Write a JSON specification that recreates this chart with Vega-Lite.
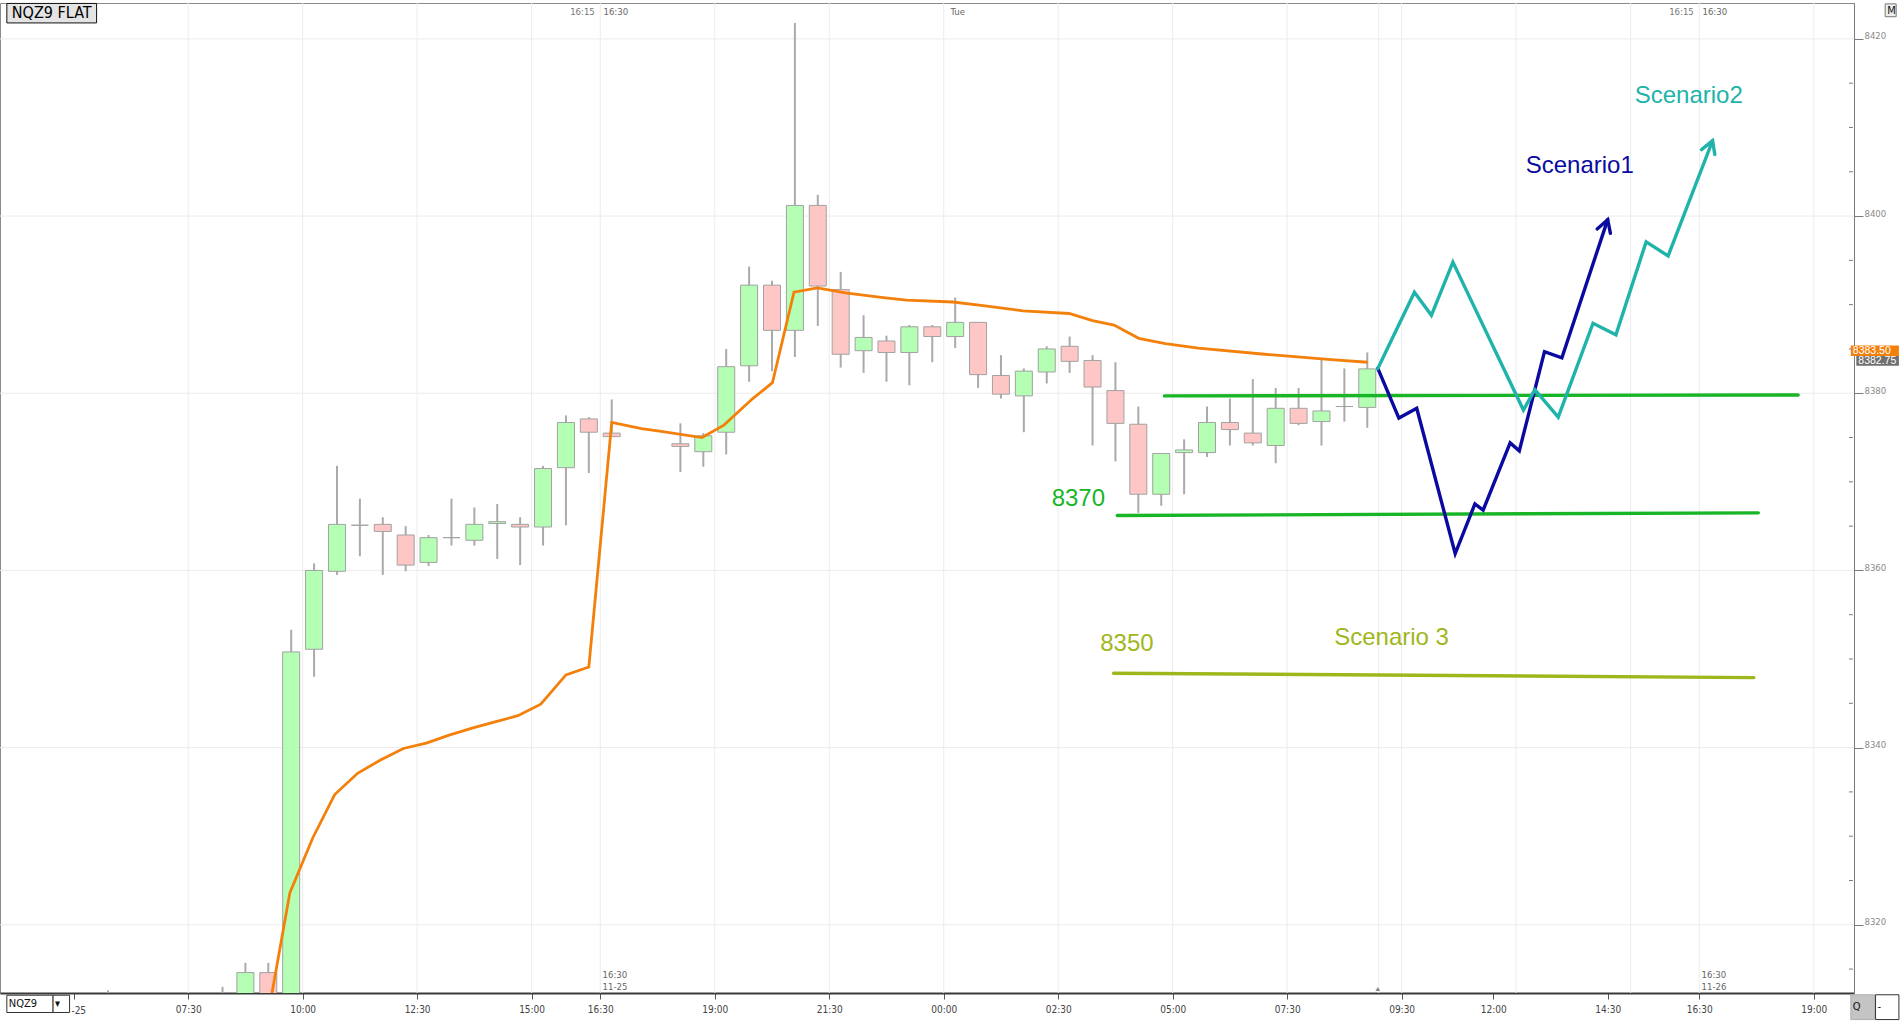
{
  "$schema": "https://vega.github.io/schema/vega-lite/v6.json",
  "description": "NQZ9 30-minute candles with VWAP, support levels and drawn scenarios",
  "width": 1854,
  "height": 990,
  "autosize": {"type": "none"},
  "padding": {"left": 0, "top": 3, "right": 50, "bottom": 28},
  "background": "white",
  "config": {
    "view": {"stroke": "#8a8a8a", "strokeWidth": 1},
    "axis": {"labelFont": "Liberation Sans Narrow, DejaVu Sans Condensed, Liberation Sans", "titleFont": "Liberation Sans"}
  },
  "datasets": {
    "candles": [
      {"x": 5.75, "open": 8300, "high": 8312.6, "low": 8298, "close": 8305},
      {"x": 8.25, "open": 8300, "high": 8313.0, "low": 8298, "close": 8305},
      {"x": 8.75, "open": 8300, "high": 8315.7, "low": 8298, "close": 8314.6},
      {"x": 9.25, "open": 8314.6, "high": 8315.7, "low": 8298, "close": 8300},
      {"x": 9.75, "open": 8300, "high": 8353.3, "low": 8298, "close": 8350.8},
      {"x": 10.25, "open": 8351.1, "high": 8360.8, "low": 8348.0, "close": 8360.0},
      {"x": 10.75, "open": 8359.9, "high": 8371.8, "low": 8359.5, "close": 8365.2},
      {"x": 11.25, "open": 8365.1, "high": 8368.1, "low": 8361.6, "close": 8365.1},
      {"x": 11.75, "open": 8365.2, "high": 8366.0, "low": 8359.5, "close": 8364.4},
      {"x": 12.25, "open": 8364.0, "high": 8365.0, "low": 8359.9, "close": 8360.6},
      {"x": 12.75, "open": 8360.9, "high": 8364.0, "low": 8360.5, "close": 8363.7},
      {"x": 13.25, "open": 8363.7, "high": 8368.1, "low": 8362.8, "close": 8363.7},
      {"x": 13.75, "open": 8363.4, "high": 8367.1, "low": 8362.8, "close": 8365.2},
      {"x": 14.25, "open": 8365.3, "high": 8367.5, "low": 8361.3, "close": 8365.5},
      {"x": 14.75, "open": 8365.2, "high": 8366.0, "low": 8360.6, "close": 8364.9},
      {"x": 15.25, "open": 8364.9, "high": 8371.8, "low": 8362.8, "close": 8371.5},
      {"x": 15.75, "open": 8371.6, "high": 8377.5, "low": 8365.1, "close": 8376.7},
      {"x": 16.25, "open": 8377.1, "high": 8377.3, "low": 8371.0, "close": 8375.6},
      {"x": 16.75, "open": 8375.5, "high": 8379.3, "low": 8375.1, "close": 8375.1},
      {"x": 18.25, "open": 8374.3, "high": 8376.6, "low": 8371.1, "close": 8374.0},
      {"x": 18.75, "open": 8373.4, "high": 8375.5, "low": 8371.7, "close": 8375.2},
      {"x": 19.25, "open": 8375.6, "high": 8385.0, "low": 8373.1, "close": 8383.0},
      {"x": 19.75, "open": 8383.1, "high": 8394.3, "low": 8381.3, "close": 8392.2},
      {"x": 20.25, "open": 8392.2, "high": 8392.7, "low": 8382.5, "close": 8387.1},
      {"x": 20.75, "open": 8387.1, "high": 8421.8, "low": 8384.1, "close": 8401.2},
      {"x": 21.25, "open": 8401.2, "high": 8402.4, "low": 8387.6, "close": 8392.1},
      {"x": 21.75, "open": 8391.7, "high": 8393.7, "low": 8382.9, "close": 8384.4},
      {"x": 22.25, "open": 8384.8, "high": 8388.8, "low": 8382.3, "close": 8386.3},
      {"x": 22.75, "open": 8385.9, "high": 8386.5, "low": 8381.3, "close": 8384.6},
      {"x": 23.25, "open": 8384.6, "high": 8387.7, "low": 8380.9, "close": 8387.5},
      {"x": 23.75, "open": 8387.5, "high": 8387.7, "low": 8383.5, "close": 8386.4},
      {"x": 24.25, "open": 8386.4, "high": 8390.8, "low": 8385.1, "close": 8388.0},
      {"x": 24.75, "open": 8388.0, "high": 8388.0, "low": 8380.6, "close": 8382.1},
      {"x": 25.25, "open": 8382.0, "high": 8384.3, "low": 8379.4, "close": 8379.9},
      {"x": 25.75, "open": 8379.7, "high": 8382.8, "low": 8375.6, "close": 8382.5},
      {"x": 26.25, "open": 8382.4, "high": 8385.3, "low": 8381.1, "close": 8385.0},
      {"x": 26.75, "open": 8385.3, "high": 8386.4, "low": 8382.3, "close": 8383.6},
      {"x": 27.25, "open": 8383.7, "high": 8384.3, "low": 8374.1, "close": 8380.7},
      {"x": 27.75, "open": 8380.3, "high": 8383.5, "low": 8372.3, "close": 8376.6},
      {"x": 28.25, "open": 8376.5, "high": 8378.5, "low": 8366.5, "close": 8368.6},
      {"x": 28.75, "open": 8368.6, "high": 8373.2, "low": 8367.3, "close": 8373.2},
      {"x": 29.25, "open": 8373.3, "high": 8374.8, "low": 8368.6, "close": 8373.6},
      {"x": 29.75, "open": 8373.3, "high": 8378.5, "low": 8372.8, "close": 8376.7},
      {"x": 30.25, "open": 8376.7, "high": 8379.4, "low": 8374.1, "close": 8375.9},
      {"x": 30.75, "open": 8375.5, "high": 8381.6, "low": 8374.1, "close": 8374.4},
      {"x": 31.25, "open": 8374.1, "high": 8380.6, "low": 8372.1, "close": 8378.3},
      {"x": 31.75, "open": 8378.3, "high": 8380.6, "low": 8376.4, "close": 8376.6},
      {"x": 32.25, "open": 8376.8, "high": 8383.8, "low": 8374.1, "close": 8378.0},
      {"x": 32.75, "open": 8378.5, "high": 8382.8, "low": 8376.8, "close": 8378.5},
      {"x": 33.25, "open": 8378.4, "high": 8384.6, "low": 8376.1, "close": 8382.75}
    ],
    "vwap": [
      {"x": 9.2, "y": 8308.5},
      {"x": 9.72, "y": 8323.6},
      {"x": 10.22, "y": 8329.8},
      {"x": 10.7, "y": 8334.7},
      {"x": 11.2, "y": 8337.1},
      {"x": 11.7, "y": 8338.6},
      {"x": 12.2, "y": 8339.9},
      {"x": 12.7, "y": 8340.5},
      {"x": 13.2, "y": 8341.4},
      {"x": 13.7, "y": 8342.2},
      {"x": 14.2, "y": 8342.9},
      {"x": 14.7, "y": 8343.6},
      {"x": 15.2, "y": 8344.9},
      {"x": 15.45, "y": 8346.4},
      {"x": 15.75, "y": 8348.2},
      {"x": 16.25, "y": 8349.1},
      {"x": 16.75, "y": 8376.7},
      {"x": 17.4, "y": 8376.0},
      {"x": 17.83, "y": 8375.7},
      {"x": 18.72, "y": 8375.0},
      {"x": 19.2, "y": 8376.4},
      {"x": 19.83, "y": 8379.4},
      {"x": 20.26, "y": 8381.2},
      {"x": 20.73, "y": 8391.4},
      {"x": 21.24, "y": 8391.9},
      {"x": 21.89, "y": 8391.3},
      {"x": 22.68, "y": 8390.8},
      {"x": 23.19, "y": 8390.5},
      {"x": 24.2, "y": 8390.3},
      {"x": 24.86, "y": 8389.9},
      {"x": 25.73, "y": 8389.3},
      {"x": 26.74, "y": 8389.0},
      {"x": 27.25, "y": 8388.2},
      {"x": 27.72, "y": 8387.7},
      {"x": 28.26, "y": 8386.2},
      {"x": 28.84, "y": 8385.6},
      {"x": 29.56, "y": 8385.1},
      {"x": 31.01, "y": 8384.4},
      {"x": 32.46, "y": 8383.8},
      {"x": 33.26, "y": 8383.5}
    ],
    "drawings": [
      {"series": "level8380", "x": 28.82, "y": 8379.7},
      {"series": "level8380", "x": 42.66, "y": 8379.8},
      {"series": "level8370", "x": 27.79, "y": 8366.2},
      {"series": "level8370", "x": 41.79, "y": 8366.5},
      {"series": "level8350", "x": 27.71, "y": 8348.4},
      {"series": "level8350", "x": 41.69, "y": 8347.9},
      {"series": "scenario1", "x": 33.48, "y": 8382.8},
      {"series": "scenario1", "x": 33.94, "y": 8377.2},
      {"series": "scenario1", "x": 34.33, "y": 8378.3},
      {"series": "scenario1", "x": 35.17, "y": 8361.9},
      {"series": "scenario1", "x": 35.6, "y": 8367.5},
      {"series": "scenario1", "x": 35.78, "y": 8366.8},
      {"series": "scenario1", "x": 36.37, "y": 8374.4},
      {"series": "scenario1", "x": 36.57, "y": 8373.5},
      {"series": "scenario1", "x": 37.12, "y": 8384.7},
      {"series": "scenario1", "x": 37.5, "y": 8384.0},
      {"series": "scenario1", "x": 38.5, "y": 8399.6},
      {"series": "arrow1", "x": 38.27, "y": 8398.55},
      {"series": "arrow1", "x": 38.5, "y": 8399.6},
      {"series": "arrow1", "x": 38.56, "y": 8398.05},
      {"series": "scenario2", "x": 33.48, "y": 8382.8},
      {"series": "scenario2", "x": 34.28, "y": 8391.4},
      {"series": "scenario2", "x": 34.65, "y": 8388.8},
      {"series": "scenario2", "x": 35.12, "y": 8394.8},
      {"series": "scenario2", "x": 36.66, "y": 8378.1},
      {"series": "scenario2", "x": 36.91, "y": 8380.4},
      {"series": "scenario2", "x": 37.42, "y": 8377.3},
      {"series": "scenario2", "x": 38.18, "y": 8387.9},
      {"series": "scenario2", "x": 38.68, "y": 8386.6},
      {"series": "scenario2", "x": 39.34, "y": 8397.1},
      {"series": "scenario2", "x": 39.82, "y": 8395.5},
      {"series": "scenario2", "x": 40.79, "y": 8408.5},
      {"series": "arrow2", "x": 40.55, "y": 8407.5},
      {"series": "arrow2", "x": 40.79, "y": 8408.5},
      {"series": "arrow2", "x": 40.84, "y": 8406.95}
    ],
    "notes": [
      {"label": "8370", "x": 26.94, "y": 8368.1, "series": "level8370"},
      {"label": "8350", "x": 28.0, "y": 8351.75, "series": "level8350"},
      {"label": "Scenario 3", "x": 33.78, "y": 8352.4, "series": "level8350"},
      {"label": "Scenario1", "x": 37.89, "y": 8405.7, "series": "scenario1"},
      {"label": "Scenario2", "x": 40.27, "y": 8413.6, "series": "scenario2"}
    ],
    "sessions": [
      {"label": "16:15", "x": 16.38, "y": 8423.0, "side": "r"},
      {"label": "16:30", "x": 16.57, "y": 8423.0, "side": "l"},
      {"label": "Tue", "x": 24.15, "y": 8423.0, "side": "l"},
      {"label": "16:15", "x": 40.38, "y": 8423.0, "side": "r"},
      {"label": "16:30", "x": 40.57, "y": 8423.0, "side": "l"},
      {"label": "16:30", "x": 16.55, "y": 8314.3, "side": "l"},
      {"label": "11-25", "x": 16.55, "y": 8312.95, "side": "l"},
      {"label": "16:30", "x": 40.55, "y": 8314.3, "side": "l"},
      {"label": "11-26", "x": 40.55, "y": 8312.95, "side": "l"}
    ],
    "gridx": [
      {"x": 7.5}, {"x": 10}, {"x": 12.5}, {"x": 15}, {"x": 16.5}, {"x": 19},
      {"x": 21.5}, {"x": 24}, {"x": 26.5}, {"x": 29}, {"x": 31.5}, {"x": 33.5},
      {"x": 34}, {"x": 36.5}, {"x": 39}, {"x": 40.5}, {"x": 43}
    ],
    "gridy": [
      {"y": 8320}, {"y": 8340}, {"y": 8360}, {"y": 8380}, {"y": 8400}, {"y": 8420}
    ],
    "minor": [
      {"y": 8315}, {"y": 8325}, {"y": 8330}, {"y": 8335}, {"y": 8345}, {"y": 8350},
      {"y": 8355}, {"y": 8365}, {"y": 8370}, {"y": 8375}, {"y": 8385}, {"y": 8390},
      {"y": 8395}, {"y": 8405}, {"y": 8410}, {"y": 8415}
    ],
    "tags": [
      {"label": "8383.50", "x": 43.81, "x2": 44.86, "y": 8384.2, "y2": 8385.4, "ty": 8384.8, "kind": "vwap"},
      {"label": "8382.75", "x": 43.93, "x2": 44.86, "y": 8383.1, "y2": 8384.2, "ty": 8383.65, "kind": "last"}
    ],
    "buttons": [
      {"label": "NQZ9", "x": 3.54, "x2": 4.55, "y": 8310.1, "y2": 8312.05, "ty": 8311.08, "kind": "field"},
      {"label": "▾", "x": 4.55, "x2": 4.91, "y": 8310.1, "y2": 8312.05, "ty": 8311.08, "kind": "field"},
      {"label": "Q", "x": 43.81, "x2": 44.33, "y": 8309.3, "y2": 8312.1, "ty": 8310.7, "kind": "refresh"},
      {"label": "-", "x": 44.35, "x2": 44.86, "y": 8309.3, "y2": 8312.1, "ty": 8310.7, "kind": "field"},
      {"label": "M", "x": 44.56, "x2": 44.8, "y": 8422.5, "y2": 8423.95, "ty": 8423.2, "kind": "small"}
    ],
    "clipped": [
      {"label": "-25", "x": 4.95, "y": 8310.3}
    ]
  },
  "layer": [
    {
      "description": "horizontal grid and price axis",
      "data": {"name": "gridy"},
      "mark": {"type": "rule", "color": "#ececec", "strokeWidth": 1},
      "encoding": {
        "y": {
          "field": "y",
          "type": "quantitative",
          "scale": {"domain": [8312.3, 8424.05], "nice": false, "zero": false},
          "axis": {
            "orient": "right",
            "title": null,
            "grid": false,
            "values": [8320, 8340, 8360, 8380, 8400, 8420],
            "format": "d",
            "labelOverlap": false,
            "labelFontSize": 9.5,
            "labelColor": "#8a8a8a",
            "labelBaseline": "alphabetic",
            "labelPadding": 1,
            "tickSize": 9,
            "tickColor": "#7a7a7a",
            "domainColor": "#7a7a7a"
          }
        }
      }
    },
    {
      "description": "minor price ticks",
      "data": {"name": "minor"},
      "mark": {"type": "rule", "color": "#7a7a7a", "strokeWidth": 1},
      "encoding": {
        "x": {"datum": 43.77, "type": "quantitative"},
        "x2": {"datum": 43.855},
        "y": {"field": "y", "type": "quantitative"}
      }
    },
    {
      "description": "vertical session grid",
      "data": {"name": "gridx"},
      "mark": {"type": "rule", "color": "#ececec", "strokeWidth": 1},
      "encoding": {
        "x": {
          "field": "x",
          "type": "quantitative",
          "scale": {"domain": [3.5, 43.77], "nice": false, "zero": false},
          "axis": {
            "orient": "bottom",
            "title": null,
            "grid": false,
            "values": [5, 7.5, 10, 12.5, 15, 16.5, 19, 21.5, 24, 26.5, 29, 31.5, 34, 36, 38.5, 40.5, 43],
            "labelExpr": "['','07:30','10:00','12:30','15:00','16:30','19:00','21:30','00:00','02:30','05:00','07:30','09:30','12:00','14:30','16:30','19:00'][indexof([5,7.5,10,12.5,15,16.5,19,21.5,24,26.5,29,31.5,34,36,38.5,40.5,43], datum.value)]",
            "labelOverlap": false,
            "labelFlush": false,
            "labelFontSize": 10,
            "labelColor": "#444444",
            "labelPadding": 5,
            "domainColor": "#3a3a3a",
            "domainWidth": 2,
            "tickColor": "#555555",
            "tickSize": 6
          }
        }
      }
    },
    {
      "description": "wicks",
      "data": {"name": "candles"},
      "mark": {"type": "rule", "color": "#aaaaaa", "strokeWidth": 2, "clip": true},
      "encoding": {
        "x": {"field": "x", "type": "quantitative"},
        "y": {"field": "low", "type": "quantitative"},
        "y2": {"field": "high"}
      }
    },
    {
      "description": "bodies",
      "data": {"name": "candles"},
      "mark": {"type": "bar", "size": 17, "stroke": "#a2a2a2", "strokeWidth": 1, "clip": true},
      "encoding": {
        "x": {"field": "x", "type": "quantitative"},
        "y": {"field": "open", "type": "quantitative"},
        "y2": {"field": "close"},
        "fill": {
          "condition": {"test": "datum.close >= datum.open", "value": "#b4ffb4"},
          "value": "#ffc6c6"
        }
      }
    },
    {
      "description": "vwap",
      "data": {"name": "vwap"},
      "mark": {"type": "line", "color": "#f4800c", "strokeWidth": 2.8, "clip": true},
      "encoding": {
        "x": {"field": "x", "type": "quantitative"},
        "y": {"field": "y", "type": "quantitative"}
      }
    },
    {
      "description": "hand drawn levels and scenarios",
      "data": {"name": "drawings"},
      "mark": {"type": "line", "strokeWidth": 3.4, "strokeCap": "round", "strokeJoin": "miter", "clip": true},
      "encoding": {
        "x": {"field": "x", "type": "quantitative"},
        "y": {"field": "y", "type": "quantitative"},
        "detail": {"field": "series"},
        "color": {
          "field": "series",
          "type": "nominal",
          "legend": null,
          "scale": {
            "domain": ["level8380", "level8370", "level8350", "scenario1", "arrow1", "scenario2", "arrow2"],
            "range": ["#18b526", "#18b526", "#9eb71c", "#0a0aa0", "#0a0aa0", "#20b3aa", "#20b3aa"]
          }
        }
      }
    },
    {
      "description": "annotation texts",
      "data": {"name": "notes"},
      "mark": {"type": "text", "font": "Liberation Sans", "fontSize": 24, "align": "center", "baseline": "middle"},
      "encoding": {
        "x": {"field": "x", "type": "quantitative"},
        "y": {"field": "y", "type": "quantitative"},
        "text": {"field": "label"},
        "color": {"field": "series", "type": "nominal", "legend": null}
      }
    },
    {
      "description": "session labels right aligned",
      "data": {"name": "sessions"},
      "transform": [{"filter": "datum.side === 'r'"}],
      "mark": {"type": "text", "font": "Liberation Sans Narrow, DejaVu Sans Condensed, Liberation Sans", "fontSize": 9.5, "align": "right", "baseline": "middle", "color": "#777777"},
      "encoding": {
        "x": {"field": "x", "type": "quantitative"},
        "y": {"field": "y", "type": "quantitative"},
        "text": {"field": "label"}
      }
    },
    {
      "description": "session labels left aligned",
      "data": {"name": "sessions"},
      "transform": [{"filter": "datum.side === 'l'"}],
      "mark": {"type": "text", "font": "Liberation Sans Narrow, DejaVu Sans Condensed, Liberation Sans", "fontSize": 9.5, "align": "left", "baseline": "middle", "color": "#666666"},
      "encoding": {
        "x": {"field": "x", "type": "quantitative"},
        "y": {"field": "y", "type": "quantitative"},
        "text": {"field": "label"}
      }
    },
    {
      "description": "symbol box",
      "data": {"values": [{"label": "NQZ9 FLAT", "x": 3.54, "x2": 5.5, "y": 8421.8, "y2": 8424.0}]},
      "layer": [
        {
          "mark": {"type": "rect", "fill": "#e4e4e4", "stroke": "#111111", "strokeWidth": 1},
          "encoding": {
            "x": {"field": "x", "type": "quantitative"},
            "x2": {"field": "x2"},
            "y": {"field": "y", "type": "quantitative"},
            "y2": {"field": "y2"}
          }
        },
        {
          "mark": {"type": "text", "font": "Liberation Sans Narrow, DejaVu Sans Condensed, Liberation Sans", "fontSize": 16, "align": "center", "baseline": "middle", "color": "#000000"},
          "encoding": {
            "x": {"datum": 4.52, "type": "quantitative"},
            "y": {"datum": 8422.9, "type": "quantitative"},
            "text": {"field": "label"}
          }
        }
      ]
    },
    {
      "description": "last bar marker",
      "data": {"values": [{"x": 33.48, "y": 8312.75}]},
      "mark": {"type": "point", "shape": "triangle-up", "filled": true, "size": 22, "color": "#555555"},
      "encoding": {
        "x": {"field": "x", "type": "quantitative"},
        "y": {"field": "y", "type": "quantitative"}
      }
    },
    {
      "description": "price tags on the axis",
      "data": {"name": "tags"},
      "layer": [
        {
          "mark": {"type": "rect"},
          "encoding": {
            "x": {"field": "x", "type": "quantitative"},
            "x2": {"field": "x2"},
            "y": {"field": "y", "type": "quantitative"},
            "y2": {"field": "y2"},
            "fill": {
              "field": "kind",
              "type": "nominal",
              "legend": null,
              "scale": {"domain": ["vwap", "last", "field", "refresh", "small"], "range": ["#f4800c", "#6f6f6f", "#ffffff", "#c4c4c4", "#eeeeee"]}
            }
          }
        },
        {
          "mark": {"type": "text", "font": "Liberation Sans", "fontSize": 10.5, "align": "left", "baseline": "middle", "dx": 2, "color": "#ffffff"},
          "encoding": {
            "x": {"field": "x", "type": "quantitative"},
            "y": {"field": "ty", "type": "quantitative"},
            "text": {"field": "label"}
          }
        }
      ]
    },
    {
      "description": "window buttons",
      "data": {"name": "buttons"},
      "layer": [
        {
          "mark": {"type": "rect", "strokeWidth": 1},
          "encoding": {
            "x": {"field": "x", "type": "quantitative"},
            "x2": {"field": "x2"},
            "y": {"field": "y", "type": "quantitative"},
            "y2": {"field": "y2"},
            "fill": {
              "field": "kind",
              "type": "nominal",
              "legend": null,
              "scale": {"domain": ["vwap", "last", "field", "refresh", "small"], "range": ["#f4800c", "#6f6f6f", "#ffffff", "#c4c4c4", "#eeeeee"]}
            },
            "stroke": {
              "field": "kind",
              "type": "nominal",
              "legend": null,
              "scale": {"domain": ["field", "refresh", "small"], "range": ["#333333", "#b0b0b0", "#777777"]}
            }
          }
        },
        {
          "mark": {"type": "text", "font": "Liberation Sans Narrow, DejaVu Sans Condensed, Liberation Sans", "fontSize": 11, "align": "left", "baseline": "middle", "dx": 2, "color": "#111111"},
          "encoding": {
            "x": {"field": "x", "type": "quantitative"},
            "y": {"field": "ty", "type": "quantitative"},
            "text": {"field": "label"}
          }
        }
      ]
    },
    {
      "description": "first time label, partly hidden by the symbol field",
      "data": {"name": "clipped"},
      "mark": {"type": "text", "font": "Liberation Sans Narrow, DejaVu Sans Condensed, Liberation Sans", "fontSize": 10, "align": "left", "baseline": "middle", "color": "#444444"},
      "encoding": {
        "x": {"field": "x", "type": "quantitative"},
        "y": {"field": "y", "type": "quantitative"},
        "text": {"field": "label"}
      }
    }
  ]
}
